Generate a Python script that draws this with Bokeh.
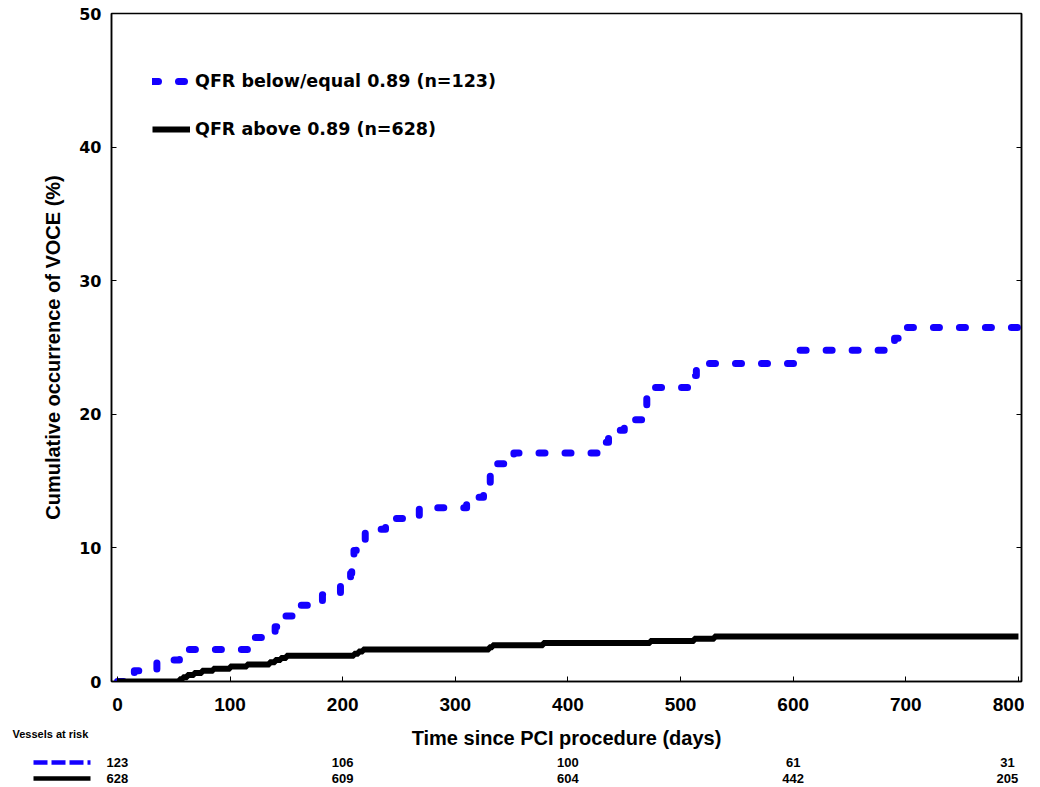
from bokeh.plotting import figure
from bokeh.layouts import column
from bokeh.models import Range1d, Legend, LegendItem, LinearAxis, FixedTicker
from bokeh.core.properties import value
from bokeh.embed import file_html
from bokeh.resources import INLINE

# ---- data ----
blue_days = [0, 15, 35, 55, 118, 140, 145, 160, 182, 198, 207, 208, 210, 212, 220, 238,
             268, 310, 325, 331, 334, 352, 430, 436, 450, 466, 470, 473, 510, 514, 606,
             690, 694, 800]
blue_pct = [0, 0.8, 1.6, 2.4, 3.3, 4.1, 4.9, 5.7, 6.5, 7.3, 8.1, 8.9, 9.8, 10.6, 11.4, 12.2,
            13.0, 13.8, 14.6, 15.4, 16.3, 17.1, 17.9, 18.8, 19.6, 20.4, 21.2, 22.0, 22.9, 23.8, 24.8,
            25.7, 26.5, 26.5]

black_days = [0, 55, 58, 62, 68, 75, 85, 100, 115, 135, 140, 145, 150, 210, 214, 218,
              330, 333, 378, 473, 512, 530, 800]
black_pct = [0, 0.16, 0.32, 0.48, 0.64, 0.8, 0.96, 1.12, 1.28, 1.44, 1.6, 1.76, 1.92, 2.08, 2.24, 2.4,
             2.56, 2.72, 2.88, 3.04, 3.2, 3.36, 3.36]

x_ticks = [0, 100, 200, 300, 400, 500, 600, 700, 800]
y_ticks = [0, 10, 20, 30, 40, 50]

risk_days = [0, 200, 400, 600, 800]
risk_low = [123, 106, 100, 61, 31]
risk_high = [628, 609, 604, 442, 205]

label_low = "QFR below/equal 0.89 (n=123)"
label_high = "QFR above 0.89 (n=628)"
x_title = "Time since PCI procedure (days)"
y_title = "Cumulative occurrence of VOCE (%)"
risk_title = "Vessels at risk"

BLUE = "#1400FF"

# ---- layout constants (pixels) ----
W = 1024
FRAME_L, FRAME_R = 111, 1021
FRAME_T, FRAME_B = 13, 681
H1 = 722
H2 = 787 - H1
X0, X1 = -5.3, 802.7

p = figure(width=W, height=H1, x_range=Range1d(X0, X1), y_range=Range1d(0, 50),
           output_backend="svg", toolbar_location=None, title=None,
           min_border_left=FRAME_L, min_border_right=W - FRAME_R,
           min_border_top=FRAME_T, min_border_bottom=H1 - FRAME_B)
p.xgrid.visible = False
p.ygrid.visible = False
p.outline_line_color = "black"
p.outline_line_width = 1.5

for ax in (p.xaxis[0], p.yaxis[0]):
    ax.major_tick_in = 5
    ax.major_tick_out = 0
    ax.minor_tick_in = 0
    ax.minor_tick_out = 0
    ax.axis_line_color = "black"
    ax.axis_line_width = 1.5
    ax.major_label_text_color = "black"
    ax.major_label_text_font_style = "bold"
    ax.axis_label_text_font_style = "bold"
    ax.axis_label_text_color = "black"
    ax.axis_label_text_font = "Liberation Sans"
    ax.axis_label_text_font_size = "20px"

p.xaxis.ticker = FixedTicker(ticks=x_ticks)
p.xaxis.major_label_text_font = "Liberation Sans"
p.xaxis.major_label_text_font_size = "19px"
p.xaxis.major_label_standoff = 16

p.yaxis.ticker = FixedTicker(ticks=y_ticks)
p.yaxis.major_label_text_font = "DejaVu Sans"
p.yaxis.major_label_text_font_size = "16px"
p.yaxis.major_label_standoff = 10
p.yaxis.axis_label = y_title
p.yaxis.axis_label_standoff = 12

rax = LinearAxis(ticker=FixedTicker(ticks=y_ticks),
                 major_label_overrides={t: "" for t in y_ticks},
                 major_tick_in=5, major_tick_out=0, minor_tick_in=0, minor_tick_out=0,
                 major_label_standoff=0, axis_line_color="black", axis_line_width=1.5)
p.add_layout(rax, "right")

r_blue = p.step(blue_days, blue_pct, mode="after", line_color=BLUE, line_width=7,
                line_dash="6 20", line_cap="round", line_join="round")
r_black = p.step(black_days, black_pct, mode="after", line_color="black", line_width=6)

legend = Legend(items=[LegendItem(label=label_low, renderers=[r_blue]),
                       LegendItem(label=label_high, renderers=[r_black])],
                location=(41, 542), border_line_color=None, background_fill_alpha=0,
                padding=0, margin=0, spacing=28, glyph_width=38, glyph_height=20,
                label_height=20, label_standoff=5, label_text_font="DejaVu Sans",
                label_text_font_style="bold", label_text_font_size="17.5px",
                label_text_color="black")
p.add_layout(legend)

# ---- bottom strip: x title + vessels at risk table ----
k = (FRAME_R - FRAME_L) / (X1 - X0)          # px per day


def px_to_day(px):
    return X0 + (px - FRAME_L) / k


p2 = figure(width=W, height=H2, x_range=Range1d(px_to_day(0), px_to_day(W)),
            y_range=Range1d(H2, 0), output_backend="svg", toolbar_location=None, title=None,
            x_axis_location=None, y_axis_location=None, min_border=0)
try:
    p2.frame_align = False
except Exception:
    pass
p2.xgrid.visible = False
p2.ygrid.visible = False
p2.outline_line_color = None

p2.text(x=[(X0 + X1) / 2], y=[15], text=[x_title], text_align="center", text_baseline="middle",
        text_font=value("Liberation Sans"), text_font_style="bold", text_font_size="20px",
        text_color="black")
p2.text(x=[px_to_day(12)], y=[11], text=[risk_title], text_align="left", text_baseline="middle",
        text_font=value("Liberation Sans"), text_font_style="bold", text_font_size="11px",
        text_color="black")

row_low_y, row_high_y = 40, 56
shift = [0, 0, 0, 0, -11]   # last column pulled in to stay on the page
p2.text(x=risk_days, y=[row_low_y] * len(risk_days), text=[str(v) for v in risk_low],
        x_offset=shift, text_align="center", text_baseline="middle",
        text_font=value("Liberation Sans"), text_font_style="bold", text_font_size="13px",
        text_color="black")
p2.text(x=risk_days, y=[row_high_y] * len(risk_days), text=[str(v) for v in risk_high],
        x_offset=shift, text_align="center", text_baseline="middle",
        text_font=value("Liberation Sans"), text_font_style="bold", text_font_size="13px",
        text_color="black")

p2.line(x=[px_to_day(33), px_to_day(90)], y=[row_low_y, row_low_y], line_color=BLUE,
        line_width=4.5, line_dash="14 4")
p2.line(x=[px_to_day(33), px_to_day(90)], y=[row_high_y, row_high_y], line_color="black",
        line_width=4.5)

layout = column(p, p2, spacing=0)
open("out.html", "w").write(file_html(layout, INLINE))
